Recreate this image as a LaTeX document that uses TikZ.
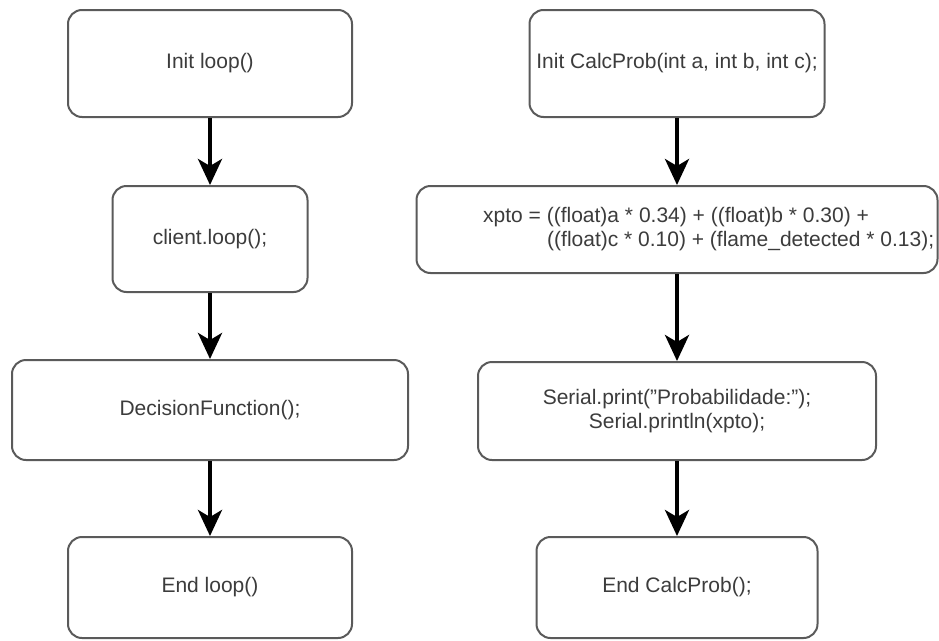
\documentclass[tikz,border=0pt]{standalone}
\usepackage{fontspec}
\setmainfont{Liberation Sans}
\usetikzlibrary{arrows.meta}
\definecolor{boxgray}{HTML}{5A5A5A}
\definecolor{txtgray}{HTML}{3C3C3C}
\begin{document}
\begin{tikzpicture}[x=1pt,y=-1pt,
  box/.style={draw=boxgray, line width=2pt, rounded corners=14pt, fill=white, inner sep=0pt,
    text=txtgray, font=\fontsize{21}{24}\selectfont, align=center},
  label/.style={text=txtgray, font=\fontsize{21}{24}\selectfont, inner sep=0pt},
  flow/.style={line width=4pt, black, -{Stealth[length=26pt,width=24pt,inset=7pt]}}]
\useasboundingbox (0,0) rectangle (939,640);
% left column
\node[box, minimum width=284pt, minimum height=107pt] (init) at (210,63.5) {Init loop()};
\node[box, minimum width=195pt, minimum height=106pt] (client) at (210,239) {client.loop();};
\node[box, minimum width=396pt, minimum height=100pt] (decision) at (210,410) {DecisionFunction();};
\node[box, minimum width=284pt, minimum height=101pt] (endloop) at (210,587.5) {End loop()};
% right column
\node[box, minimum width=295pt, minimum height=107pt] (initc) at (677,63.5) {Init CalcProb(int a, int b, int c);};
\node[box, minimum width=521pt, minimum height=87pt] (xpto) at (677,229.5) {};
\node[label, anchor=west, align=left] (xptotext) at (483,229.5)
  {xpto = ((float)a * 0.34) + ((float)b * 0.30) +\\\hspace*{64pt}((float)c * 0.10) + (flame\_detected * 0.13);};
\node[box, minimum width=398pt, minimum height=98pt] (serial) at (677,411)
  {Serial.print("Probabilidade:");\\Serial.println(xpto);};
\node[box, minimum width=281pt, minimum height=101pt] (endc) at (677,587.5) {End CalcProb();};
% connectors
\draw[flow] (init) -- (client);
\draw[flow] (client) -- (decision);
\draw[flow] (decision) -- (endloop);
\draw[flow] (initc) -- (xpto);
\draw[flow] (xpto) -- (serial);
\draw[flow] (serial) -- (endc);
\end{tikzpicture}
\end{document}
